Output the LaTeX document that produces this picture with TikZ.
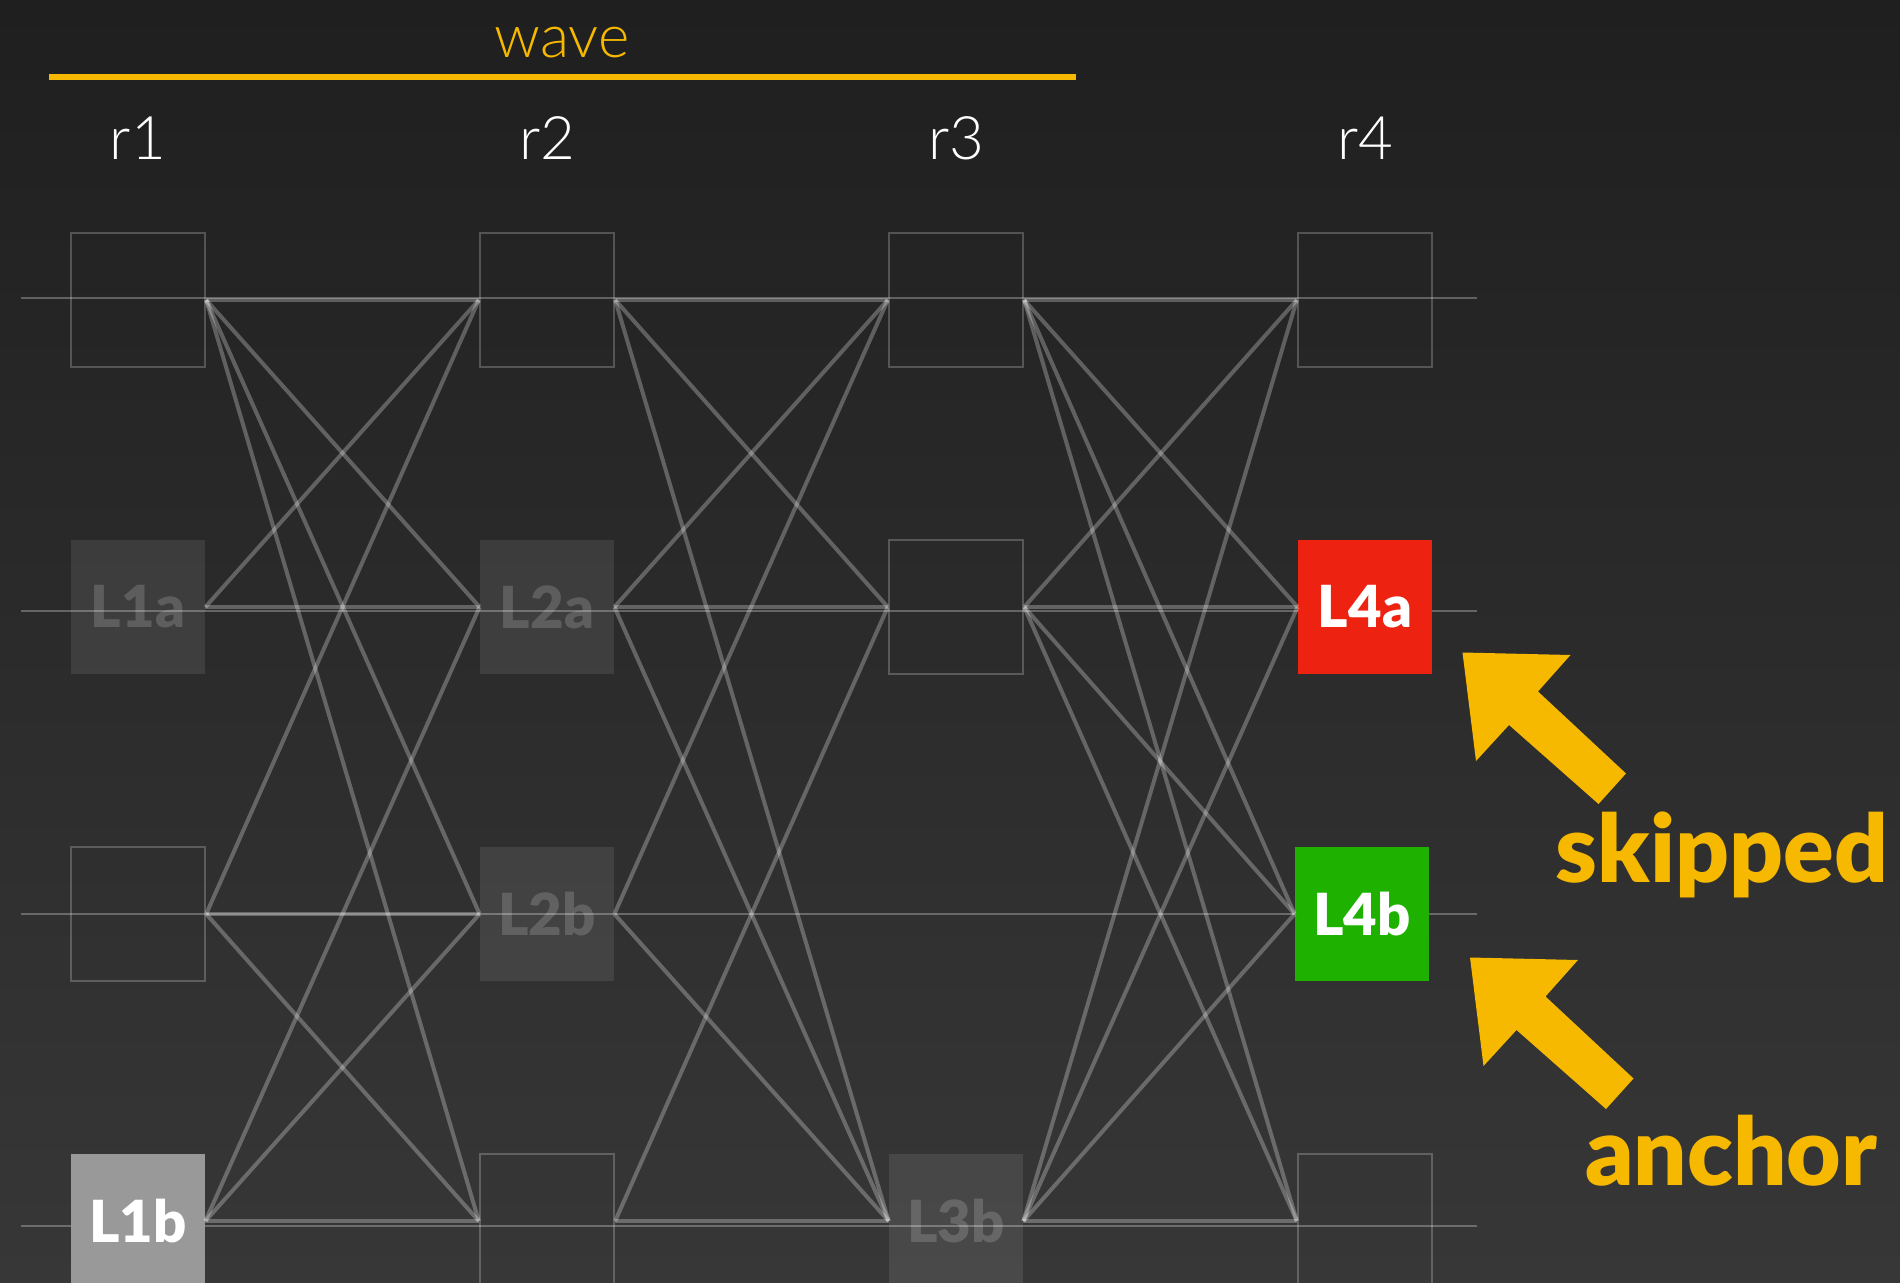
\documentclass[tikz,border=0pt]{standalone}
\usepackage{fontspec}
\newfontfamily\thinface{Lato Light}
\newfontfamily\heavyface{Lato Black}
\definecolor{waveyellow}{RGB}{247,185,0}
\definecolor{skipred}{RGB}{238,34,17}
\definecolor{anchorgreen}{RGB}{31,177,0}
\definecolor{bgtop}{RGB}{31,31,31}
\definecolor{bgbottom}{RGB}{55,55,55}
\tikzset{
  slot/.style={draw=white,draw opacity=.22,line width=1.2pt,minimum size=67pt,inner sep=0pt},
  ghost/.style={fill=white,fill opacity=.09,text=white,text opacity=.17,minimum size=67pt,inner sep=0pt,
    font=\heavyface\fontsize{29}{29}\selectfont},
  lit/.style={fill=#1,text=white,minimum size=67pt,inner sep=0pt,
    font=\heavyface\fontsize{29}{29}\selectfont},
  rowline/.style={draw=white,draw opacity=.28,line width=1pt},
  edge/.style={draw=white,draw opacity=.27,line width=2pt},
  collabel/.style={text=white,anchor=base,font=\thinface\fontsize{30}{30}\selectfont},
  callout/.style={text=waveyellow,anchor=base,font=\heavyface\fontsize{47}{47}\selectfont},
  pics/bigarrow/.style={code={
    \fill[waveyellow] (0,0) -- (108,2.5) -- (75.5,39) -- (163.5,121) -- (136,151.5)
      -- (46.5,72.5) -- (13.5,108.5) -- cycle;}}
}
\begin{document}
\begin{tikzpicture}[x=.5pt,y=-.5pt]
    \shade[top color=bgtop,bottom color=bgbottom] (0,0) rectangle (1900,1283);
    \useasboundingbox (0,0) rectangle (1900,1283);
    \node[text=waveyellow,anchor=base,font=\thinface\fontsize{30}{30}\selectfont] (wave) at (562,58) {wave};
    \draw[waveyellow,line width=2.6pt] (49,77) -- (1076,77);
    \foreach \c in {1,...,4}
    \node[collabel] (r\c) at ({138+409*(\c-1)},160) {r\c};
    \foreach \y in {298,611,914,1226}
    \draw[rowline] (21,\y) -- (1477,\y);
    \foreach \c/\r in {1/1,1/3,2/1,2/4,3/1,3/2,4/1,4/4}
    \node[slot] (n\c\r) at ({138+409*(\c-1)},{300+307*(\r-1)}) {};
    \node[ghost] (n12) at (138,607) {L1a};
    \node[lit=white!60!black] (n14) at (138,1221) {L1b};
    \node[ghost] (n22) at (547,607) {L2a};
    \node[ghost] (n23) at (547,914) {L2b};
    \node[ghost] (n34) at (956,1221) {L3b};
    \node[lit=skipred] (n42) at (1365,607) {L4a};
    \node[lit=anchorgreen] (n43) at (1362,914) {L4b};
    \foreach \a/\b in {11/21,11/22,11/23,11/24,12/21,12/22,13/21,13/23,13/24,14/22,14/23,14/24,
                       21/31,21/32,21/34,22/31,22/32,22/34,23/31,23/34,24/32,24/34,
                       31/41,31/42,31/43,31/44,32/41,32/42,32/43,32/44,34/41,34/42,34/43,34/44}
    \draw[edge] (n\a.east) -- (n\b.west);
    \pic at (1462.5,652.5) {bigarrow};
    \pic at (1470,957.5) {bigarrow};
    \node[callout] (skipped) at (1722,882) {skipped};
    \node[callout] (anchor) at (1731,1185) {anchor};
  \end{tikzpicture}
\end{document}
